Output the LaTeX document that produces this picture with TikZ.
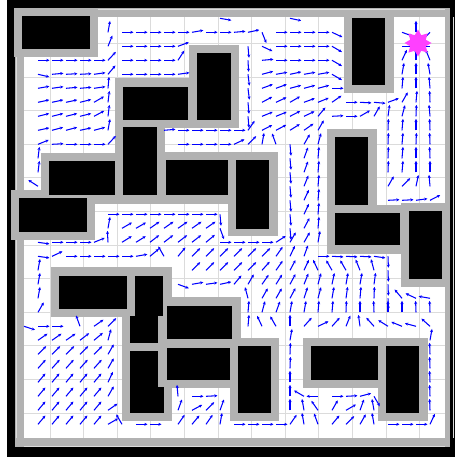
\documentclass[tikz,border=0pt]{standalone}
\usepackage{tikz}
\usetikzlibrary{arrows.meta, shapes.geometric}

\definecolor{padgray}{gray}{0.7}
\definecolor{gridgray}{gray}{0.86}
\definecolor{goalpink}{RGB}{255,64,255}

\begin{document}
\begin{tikzpicture}[x=1pt, y=-1pt,
  wall/.style={fill=black},
  pad/.style={fill=padgray},
  vec/.style={blue, line width=1.05pt, -{Stealth[length=3.2pt, width=3pt]}},
  goal/.style={star, star points=8, star point ratio=1.6, fill=goalpink, inner sep=0pt, minimum size=27pt}]
  \useasboundingbox (0,0) rectangle (455,458);

  % Khung ngoài
  \fill[white] (0,0) rectangle (455,458);
  \fill[wall] (7,0) rectangle (455,457);
  \fill[pad] (15,8) rectangle (450,447);
  \fill[white] (24,17) rectangle (445,438);

  % Lưới
  \foreach \k in {0,...,13} {
    \draw[gridgray, line width=0.8pt] ({16.4+33.6*\k},17) -- ({16.4+33.6*\k},438);
    \draw[gridgray, line width=0.8pt] (24,{9.7+33.6*\k}) -- (445,{9.7+33.6*\k});
  }

  % Vùng đệm quanh vật cản
  \foreach \a/\b/\c/\d in {14/8/98/57, 189/45/239/128, 115/78/197/128, 115/120/165/204,
      41/153/123/204, 158/152/236/204, 11/190/95/240, 228/152/278/236, 344/10/394/93,
      327/129/377/213, 327/205/409/254, 401/203/450/287, 51/267/135/317, 122/267/172/343,
      159/297/241/347, 122/343/172/421, 159/340/238/388, 230/338/279/421,
      303/338/386/388, 378/338/428/421}
    \fill[pad] (\a,\b) rectangle (\c,\d);

  % Vật cản
  \foreach \a/\b/\c/\d in {22/16/90/49, 197/53/231/120, 123/87/188/120, 123/127/157/195,
      49/161/115/195, 166/160/228/195, 19/198/87/232, 236/160/269/229, 352/18/385/85,
      335/137/368/205, 335/213/400/245, 409/211/442/279, 59/276/127/309,
      135/276/163/316, 130/316/158/343, 167/306/232/339, 130/351/158/413,
      130/387/164/413, 167/348/230/380, 238/346/271/413, 311/346/378/380,
      386/346/419/413}
    \fill[wall] (\a,\b) rectangle (\c,\d);

  % Trường vectơ (9 = không có mũi tên)
  \foreach \row [count=\j from -1] in {
    {9, 9,9,9,9,9, 9,9,9,9,9, 9,9,9,-10,9, 9,9,9,-12,9, 9,9,9,9,9, 9,9,9,9},
    {9, 9,9,9,9,9, 80,0,0,0,0, 0,10,0,0,5, 12,-68,0,0,0, 0,-25,9,9,9, 9,-20,90,225},
    {9, 9,9,9,9,9, 68,0,0,0,0, 20,9,9,9,9, -85,-25,0,0,0, 0,-30,9,9,9, 9,0,90,180},
    {9, 0,0,0,0,0, 47,0,0,0,0, 57,9,9,9,9, -87,5,0,0,0, 0,-30,9,9,9, 9,65,90,112},
    {9, -13,5,3,3,8, 50,0,0,0,0, 8,9,9,9,9, -83,15,10,12,10, 10,-30,9,9,9, 9,80,90,100},
    {9, 10,8,5,5,8, 85,9,9,9,9, 9,9,9,9,9, -83,20,20,15,15, 15,0,9,9,9, 9,85,90,95},
    {9, 12,12,12,14,30, 83,9,9,9,9, 9,9,9,9,9, -85,28,25,30,20, 22,35,0,-3,-5, 20,60,85,92},
    {9, 14,14,14,14,28, 83,9,9,9,9, 9,9,9,9,9, -85,22,22,27,25, 50,3,0,30,60, 82,75,88,95},
    {9, 12,15,15,12,15, 80,9,9,9,5, 0,0,0,0,0, 55,27,28,32,35, 60,9,9,9,9, 88,85,90,92},
    {9, 22,3,0,0,0, 47,9,9,9,9, 0,0,0,0,25, 45,80,110,-85,60, 75,9,9,9,9, 88,85,88,92},
    {9, 83,9,9,9,9, 9,9,9,9,9, 9,9,9,9,9, 9,9,9,-85,70, 85,9,9,9,9, 88,85,90,92},
    {9, 83,9,9,9,9, 9,9,9,9,9, 9,9,9,9,9, 9,9,9,-85,70, 85,9,9,9,9, 88,85,90,90},
    {9, 147,9,9,9,9, 9,9,9,9,9, 9,9,9,9,9, 9,9,9,-85,68, 85,9,9,9,9, 60,45,78,95},
    {9, 9,9,9,9,9, 9,9,9,9,9, 9,9,9,9,9, 9,9,9,-85,65, 85,9,9,9,9, 3,3,8,27},
    {9, 9,9,9,9,9, 0,0,0,0,0, 0,0,0,-85,9, 9,9,9,-85,65, 85,9,9,9,9, 9,9,9,9},
    {9, 9,9,9,9,9, 80,30,30,35,35, 35,35,35,-70,9, 9,9,9,-85,62, 85,9,9,9,9, 9,9,9,9},
    {9, -8,0,0,0,22, 93,32,32,38,38, 38,38,40,0,0, 0,0,33,60,60, 80,9,9,9,9, 9,9,9,9},
    {9, -8,25,0,0,0, 0,0,10,40,120, 50,45,45,45,45, 45,45,55,65,70, 0,-3,-3,-3,-8, -88,9,9,9},
    {9, 80,9,9,9,9, 9,9,9,9,9, 9,45,45,45,45, 45,48,55,62,65, 115,120,120,112,105, -88,9,9,9},
    {9, 80,9,9,9,9, 9,9,9,9,9, -20,10,8,12,50, 60,55,58,62,68, 75,78,80,80,82, -88,9,9,9},
    {9, 80,9,9,9,9, 9,9,9,9,9, 9,9,9,9,9, 105,60,60,62,72, 75,80,82,85,88, -88,130,155,170},
    {9, 60,9,9,9,9, 9,9,9,9,9, 9,9,9,9,9, 85,75,70,80,80, 85,85,88,90,92, 90,90,92,92},
    {-18, 0,0,9,110,35, 45,9,9,9,9, 9,9,9,9,9, 85,115,120,90,48, 25,48,68,98,132, 148,158,165,138},
    {9, 35,35,35,38,40, 75,9,9,9,9, 9,9,9,9,9, 9,9,9,80,9, 9,9,9,9,9, 9,9,9,80},
    {9, 45,45,45,45,45, 60,9,9,9,9, 9,9,9,9,9, 9,9,9,88,9, 9,9,9,9,9, 9,9,9,92},
    {9, 48,48,48,48,48, 60,9,9,9,9, 9,9,9,9,9, 9,9,9,88,9, 9,9,9,9,9, 9,9,9,92},
    {9, 50,50,50,50,50, 65,9,9,9,9, 9,9,9,9,9, 9,9,9,90,9, 9,9,9,9,9, 9,9,9,92},
    {9, 50,50,50,50,50, 60,9,9,9,9, 95,0,3,9,9, 9,9,9,90,150, 180,0,3,15,-60, 9,9,9,92},
    {9, 50,50,50,50,50, 35,9,9,9,9, 70,28,45,70,9, 9,9,9,90,100, 125,60,30,70,100, 9,9,9,92},
    {9, 50,50,50,50,50, 30,120,0,0,9, 55,50,55,80,0, 0,0,0,55,100, 110,50,45,60,100, 0,0,0,65}} {
    \foreach \a [count=\i from -1] in \row {
      \ifnum\a=9 \else
        \draw[vec] ({38+14*\i},{32.3+14*\j}) -- ++(\a:11.5pt);
      \fi
    }
  }

  % Đích
  \node[goal] (goal) at (418,43) {};
\end{tikzpicture}
\end{document}
